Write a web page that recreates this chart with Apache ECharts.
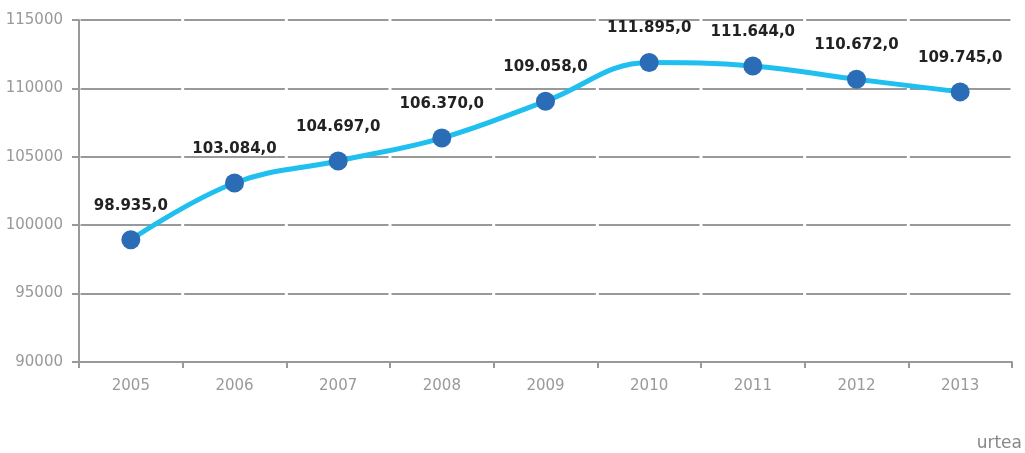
<!DOCTYPE html>
<html>
<head>
<meta charset="utf-8">
<script src="https://cdn.jsdelivr.net/npm/echarts@6/dist/echarts.min.js"></script>
<style>
html,body{margin:0;padding:0;background:#fff;}
#c{width:1025px;height:453px;}
</style>
</head>
<body>
<div id="c"></div>
<script>
const years = ['2005','2006','2007','2008','2009','2010','2011','2012','2013'];
const values = [98935, 103084, 104697, 106370, 109058, 111895, 111644, 110672, 109745];
const yTicks = [90000, 95000, 100000, 105000, 110000, 115000];
const xTitle = 'urtea';

function fmt(v){
  const s = String(v);
  const th = s.slice(0, s.length-3), rest = s.slice(s.length-3);
  return th + '.' + rest + ',0';
}

const chart = echarts.init(document.getElementById('c'), null, {renderer:'canvas'});
const band = (1025 - 79 - 13) / years.length;
const gap = 3;
chart.setOption({
  animation:false,
  grid:{left:79, right:13, top:20, bottom:91, containLabel:false},
  xAxis:{
    type:'category', data:years, boundaryGap:true,
    axisLine:{lineStyle:{color:'#999', width:2}},
    axisTick:{show:true, length:6, lineStyle:{color:'#999', width:2}},
    axisLabel:{color:'#999', fontSize:15, fontFamily:'DejaVu Sans', margin:17}
  },
  yAxis:{
    type:'value', min:yTicks[0], max:yTicks[yTicks.length-1], interval:5000,
    axisLine:{show:true, lineStyle:{color:'#999', width:2}},
    axisTick:{show:true, length:7, lineStyle:{color:'#999', width:2}},
    axisLabel:{color:'#999', fontSize:15, fontFamily:'DejaVu Sans', margin:16, formatter:v=>String(v)},
    splitLine:{show:true, lineStyle:{color:'#999', width:2, type:[band-gap, gap], dashOffset: band-gap/2}}
  },
  graphic:[{type:'text', right:3, bottom:1, style:{text:xTitle, fill:'#888', fontSize:17, fontFamily:'DejaVu Sans'}}],
  series:[{
    type:'line', data:values, smooth:0.4,
    lineStyle:{color:'#1fbfef', width:5},
    symbol:'circle', symbolSize:19,
    itemStyle:{color:'#2a6cb6'},
    label:{show:true, position:'top', distance:17, color:'#222', fontSize:15, fontWeight:'bold', fontFamily:'DejaVu Sans',
      formatter:p=>fmt(p.value)}
  }]
});
</script>
</body>
</html>
